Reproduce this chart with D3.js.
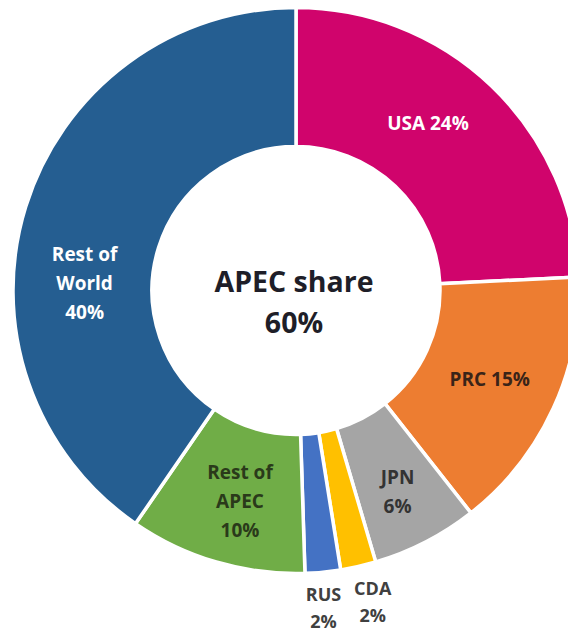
<!DOCTYPE html>
<html>
<head>
<meta charset="utf-8">
<script src="https://cdn.jsdelivr.net/npm/d3@7"></script>
<style>
  body { margin: 0; background: #fff; }
  svg { display: block; font-family: "Open Sans", "Noto Sans", sans-serif; }
</style>
</head>
<body>
<div id="chart"></div>
<script>
(function () {
    const width = 568;
    const height = 635;

    // data
    const categories = ["USA", "PRC", "JPN", "CDA", "RUS", "Rest of APEC", "Rest of World"];
    const shares = [24, 15, 6, 2, 2, 10, 40];
    const labelLines = [
        ["USA 24%"],
        ["PRC 15%"],
        ["JPN", "6%"],
        ["CDA", "2%"],
        ["RUS", "2%"],
        ["Rest of", "APEC", "10%"],
        ["Rest of", "World", "40%"]
    ];
    const centerLines = ["APEC share", "60%"];

    const colors = ["#d0046c", "#ed7d31", "#a5a5a5", "#ffc000", "#4472c4", "#70ad47", "#255e91"];
    const textColors = ["#fff", "#3a2418", "#333", "#404040", "#404040", "#2a3a1a", "#fff"];
    const outside = [false, false, false, true, true, false, false];
    // small nudges so labels sit where the original placed them
    const nudge = {
        "USA": [-15, -13],
        "JPN": [4, 12],
        "CDA": [6, -1],
        "RUS": [-3, -2],
        "Rest of APEC": [4, 6],
        "Rest of World": [-8, 56]
    };

    const cx = 296, cy = 290.5;
    const outerR = 283, innerR = 144;

    const svg = d3.select("#chart").append("svg")
        .attr("width", width)
        .attr("height", height);

    const g = svg.append("g").attr("transform", `translate(${cx},${cy})`);

    const pie = d3.pie().sort(null).value(d => d.value);
    const arcs = pie(categories.map((c, i) => ({ name: c, value: shares[i], i: i })));

    const arc = d3.arc().innerRadius(innerR).outerRadius(outerR);
    const labelArc = d3.arc().innerRadius(213).outerRadius(213);
    const outerLabelArc = d3.arc().innerRadius(321).outerRadius(321);

    g.selectAll("path.slice")
        .data(arcs)
        .enter().append("path")
        .attr("class", "slice")
        .attr("d", arc)
        .attr("fill", d => colors[d.data.i])
        .attr("stroke", "#fff")
        .attr("stroke-width", 3.5);

    const labels = g.selectAll("text.label")
        .data(arcs)
        .enter().append("text")
        .attr("class", "label")
        .attr("text-anchor", "middle")
        .attr("font-size", d => outside[d.data.i] ? 18 : 19)
        .attr("font-weight", "bold")
        .attr("fill", d => textColors[d.data.i])
        .attr("transform", d => {
            const p = (outside[d.data.i] ? outerLabelArc : labelArc).centroid(d);
            const n = nudge[d.data.name] || [0, 0];
            return `translate(${p[0] + n[0]},${p[1] + n[1]})`;
        });

    labels.each(function (d) {
        const lines = labelLines[d.data.i];
        const lineH = outside[d.data.i] ? 27 : 29;
        const t = d3.select(this);
        lines.forEach((s, k) => {
            t.append("tspan")
                .attr("x", 0)
                .attr("y", (k - (lines.length - 1) / 2) * lineH)
                .attr("dy", "0.35em")
                .text(s);
        });
    });

    // centre text
    const center = g.append("text")
        .attr("text-anchor", "middle")
        .attr("font-size", 28.5)
        .attr("font-weight", "bold")
        .attr("fill", "#1e1e28");
    centerLines.forEach((s, k) => {
        center.append("tspan")
            .attr("x", -2)
            .attr("y", k === 0 ? 1.5 : 42.5)
            .text(s);
    });
})();
</script>
</body>
</html>
